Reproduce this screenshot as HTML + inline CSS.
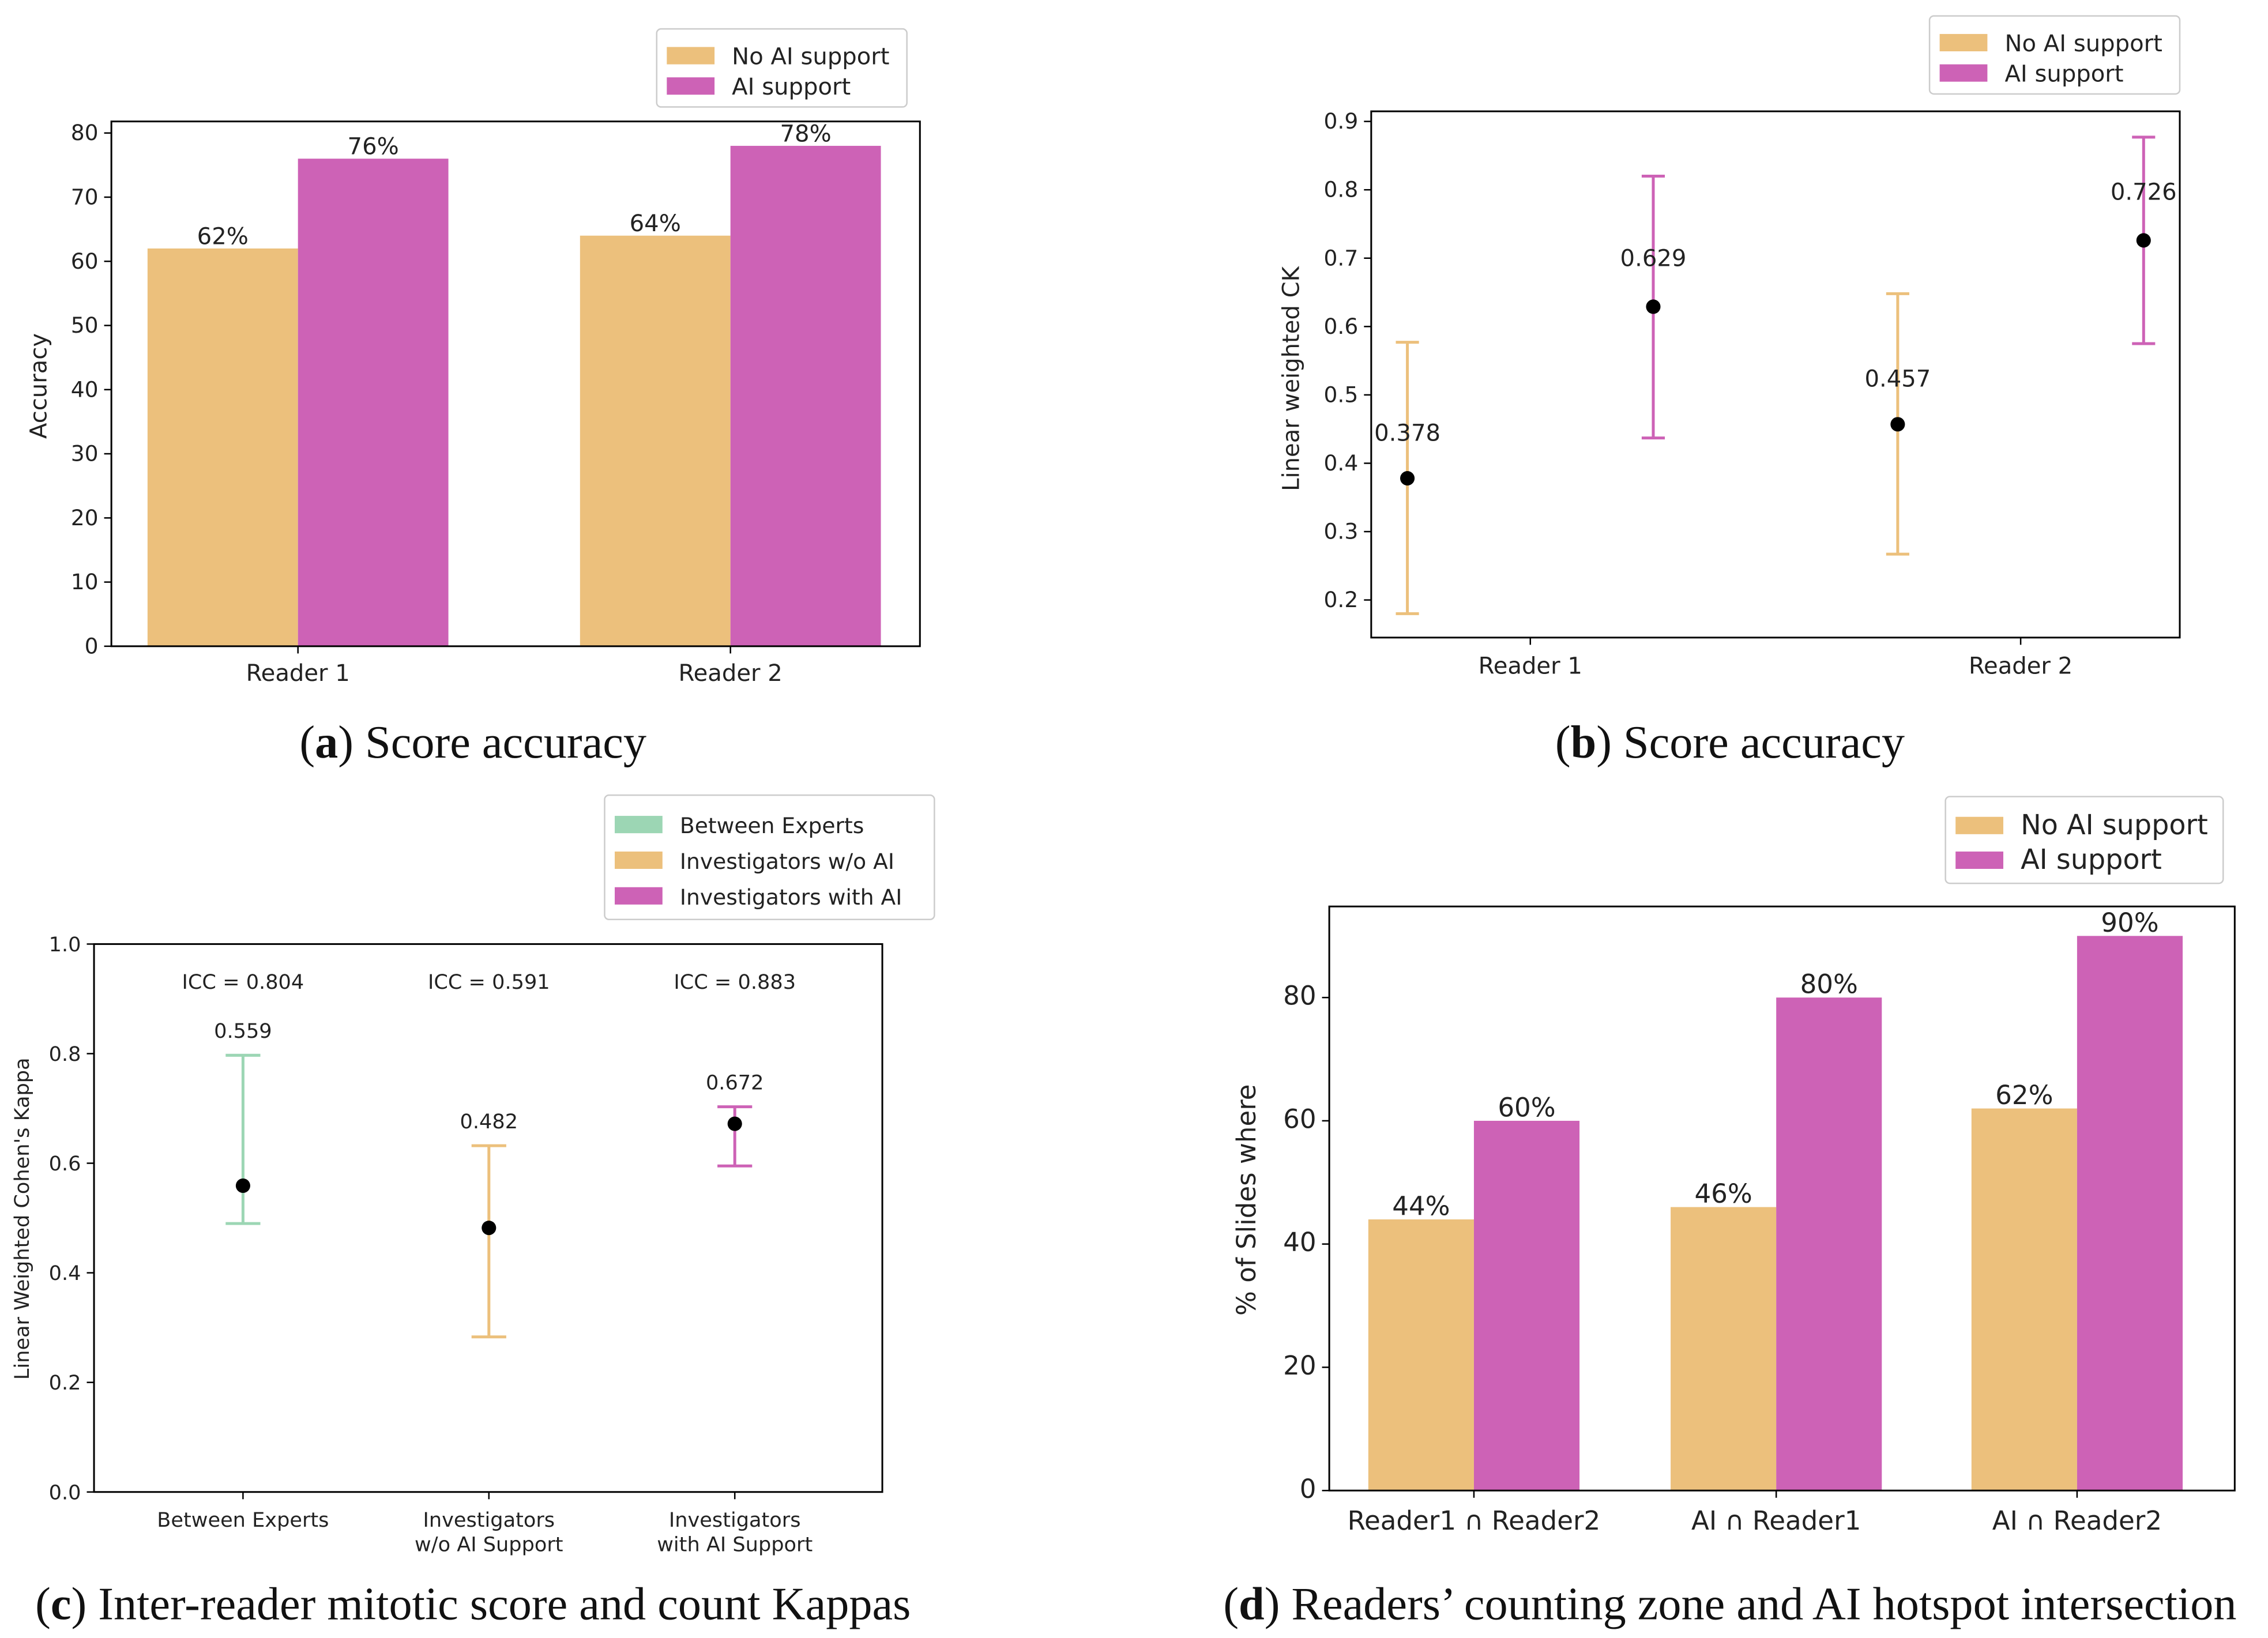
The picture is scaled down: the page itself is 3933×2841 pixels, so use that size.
<!DOCTYPE html>
<html><head><meta charset="utf-8"><style>
html,body{margin:0;padding:0;background:#fff}
svg{display:block}
text{font-family:"DejaVu Sans","Liberation Sans",sans-serif;fill:#222}
.cap{font-family:"Liberation Serif",serif;font-size:32px;fill:#111}
</style></head><body>
<svg id="s" width="3933" height="2841" viewBox="0 0 1568 1133" preserveAspectRatio="none" xmlns="http://www.w3.org/2000/svg"></svg>
<script>
// Panel a data
const aCats=["Reader 1","Reader 2"];
const aNoAI=[62,64];
const aAI=[76,78];
const aTicks=[0,10,20,30,40,50,60,70,80];
// Panel b data
const bCats=["Reader 1","Reader 2"];
const bNoAI=[0.378,0.457];
const bNoAILo=[0.18,0.267];
const bNoAIHi=[0.577,0.648];
const bAI=[0.629,0.726];
const bAILo=[0.437,0.575];
const bAIHi=[0.82,0.877];
const bTicks=[0.2,0.3,0.4,0.5,0.6,0.7,0.8,0.9];
// Panel c data
const cCats=[["Between Experts"],["Investigators","w/o AI Support"],["Investigators","with AI Support"]];
const cVals=[0.559,0.482,0.672];
const cLo=[0.49,0.283,0.595];
const cHi=[0.797,0.632,0.703];
const cICC=["ICC = 0.804","ICC = 0.591","ICC = 0.883"];
const cTicks=[0,0.2,0.4,0.6,0.8,1.0];
// Panel d data
const dCats=["Reader1 \u2229 Reader2","AI \u2229 Reader1","AI \u2229 Reader2"];
const dNoAI=[44,46,62];
const dAI=[60,80,90];
const dTicks=[0,20,40,60,80];

const OR="#ecc07c",MG="#cd62b6",GR="#9cd6b4";
const S=document.getElementById('s');
const NS="http://www.w3.org/2000/svg";
function el(tag,at,txt){const e=document.createElementNS(NS,tag);for(const k in at)e.setAttribute(k,at[k]);if(txt!==undefined)e.textContent=txt;S.appendChild(e);return e;}
function t(x,y,s,fs,anc,name,extra){const e=el('text',Object.assign({x:x,y:y,'font-size':fs,'text-anchor':anc||'middle'},extra||{}),s);


return e;}
function frame(x0,y0,x1,y1,name){const r=el('rect',{x:x0,y:y0,width:x1-x0,height:y1-y0,fill:'none',stroke:'#000','stroke-width':1.2});

}
function yaxis(ticks,fy,x0,fmt,fs,name){ticks.forEach(v=>{const y=fy(v);el('line',{x1:x0-5,x2:x0,y1:y,y2:y,stroke:'#000'});
t(x0-9,y+5,fmt(v),fs,'end',name+'-tick');});}
function legend(x,y,w,h,items,fs,name){const r=el('rect',{x:x,y:y,width:w,height:h,rx:3,fill:'#fff',stroke:'#ccc'});


const step=(h-12)/items.length;items.forEach((it,i)=>{const cy=y+8+step*(i+0.5);
const sw=el('rect',{x:x+7,y:cy-6,width:33,height:12,fill:it[1]});


t(x+52,cy+6,it[0],fs,'start','legend-entry');});}
function bar(x,y0,y1,w,c,name){const r=el('rect',{x:x,y:Math.min(y0,y1),width:w,height:Math.abs(y1-y0),fill:c});

}
function errbar(x,yl,yh,c,cap,name){const g=[el('line',{x1:x,x2:x,y1:yl,y2:yh,stroke:c,'stroke-width':2}),el('line',{x1:x-cap,x2:x+cap,y1:yl,y2:yl,stroke:c,'stroke-width':2}),el('line',{x1:x-cap,x2:x+cap,y1:yh,y2:yh,stroke:c,'stroke-width':2})];
g.forEach(e=>{
});}
function dot(x,y,name){const c=el('circle',{cx:x,cy:y,r:5,fill:'#000'});

}

// ---- Panel a
(function(){const fy=v=>447-v*(447-92)/80;const cx=[206,505];const bw=104;
aCats.forEach((c,i)=>{bar(cx[i]-bw,447,fy(aNoAI[i]),bw,OR,'bar-no-ai');bar(cx[i],447,fy(aAI[i]),bw,MG,'bar-ai');
t(cx[i]-bw/2,fy(aNoAI[i])-3,aNoAI[i]+'%',16,'middle','bar-value');t(cx[i]+bw/2,fy(aAI[i])-3,aAI[i]+'%',16,'middle','bar-value');
el('line',{x1:cx[i],x2:cx[i],y1:447,y2:452,stroke:'#000'});t(cx[i],471,c,16,'middle','x-tick-label');});
frame(77,84,636,447,'plot-a');yaxis(aTicks,fy,77,v=>v,15,'y');
t(32,267,'Accuracy',16,'middle','y-axis-title',{transform:'rotate(-90 32 267)'});
legend(454,20,173,54,[['No AI support',OR],['AI support',MG]],16,'legend-a');
const c=el('text',{x:327,y:524,'text-anchor':'middle','class':'cap'});c.innerHTML='(<tspan font-weight="bold">a</tspan>) Score accuracy';

})();

// ---- Panel b
(function(){const fy=v=>415-(v-0.2)*(415-84)/0.7;const cx=[1058,1397];const off=85;
bCats.forEach((c,i)=>{let x=cx[i]-off;errbar(x,fy(bNoAILo[i]),fy(bNoAIHi[i]),OR,8,'error-bar-no-ai');dot(x,fy(bNoAI[i]),'point-no-ai');t(x,fy(bNoAI[i])-26,bNoAI[i].toFixed(3),16,'middle','point-value');
x=cx[i]+off;errbar(x,fy(bAILo[i]),fy(bAIHi[i]),MG,8,'error-bar-ai');dot(x,fy(bAI[i]),'point-ai');t(x,fy(bAI[i])-28,bAI[i].toFixed(3),16,'middle','point-value');
el('line',{x1:cx[i],x2:cx[i],y1:441,y2:446,stroke:'#000'});t(cx[i],466,c,16,'middle','x-tick-label');});
frame(948,77,1507,441,'plot-b');yaxis(bTicks,fy,948,v=>v.toFixed(1),15,'y');
t(898,262,'Linear weighted CK',16,'middle','y-axis-title',{transform:'rotate(-90 898 262)'});
legend(1334,11,173,54,[['No AI support',OR],['AI support',MG]],16,'legend-b');
const c=el('text',{x:1196,y:524,'text-anchor':'middle','class':'cap'});c.innerHTML='(<tspan font-weight="bold">b</tspan>) Score accuracy';

})();

// ---- Panel c
(function(){const fy=v=>1032-v*(1032-653);const cx=[168,338,508];const cols=[GR,OR,MG];
cCats.forEach((c,i)=>{errbar(cx[i],fy(cLo[i]),fy(cHi[i]),cols[i],12,'error-bar');dot(cx[i],fy(cVals[i]),'point');
t(cx[i],fy(cHi[i])-12,cVals[i].toFixed(3),14,'middle','point-value');t(cx[i],684,cICC[i],14,'middle','icc-label');
el('line',{x1:cx[i],x2:cx[i],y1:1032,y2:1037,stroke:'#000'});c.forEach((l,j)=>t(cx[i],1056+j*17,l,14,'middle','x-tick-label'));});
frame(65,653,610,1032,'plot-c');yaxis(cTicks,fy,65,v=>v.toFixed(1),14,'y');
t(20,843,"Linear Weighted Cohen's Kappa",14,'middle','y-axis-title',{transform:'rotate(-90 20 843)'});
legend(418,550,228,86,[['Between Experts',GR],['Investigators w/o AI',OR],['Investigators with AI',MG]],15,'legend-c');
const c=el('text',{x:327,y:1120,'text-anchor':'middle','class':'cap'});c.innerHTML='(<tspan font-weight="bold">c</tspan>) Inter-reader mitotic score and count Kappas';

})();

// ---- Panel d
(function(){const fy=v=>1031-v*(1031-690)/80;const cx=[1019,1228,1436];const bw=73;
dCats.forEach((c,i)=>{bar(cx[i]-bw,1031,fy(dNoAI[i]),bw,OR,'bar-no-ai');bar(cx[i],1031,fy(dAI[i]),bw,MG,'bar-ai');
t(cx[i]-bw/2,fy(dNoAI[i])-3,dNoAI[i]+'%',18,'middle','bar-value');t(cx[i]+bw/2,fy(dAI[i])-3,dAI[i]+'%',18,'middle','bar-value');
el('line',{x1:cx[i],x2:cx[i],y1:1031,y2:1036,stroke:'#000'});t(cx[i],1058,c,18,'middle','x-tick-label');});
frame(919,627,1545,1031,'plot-d');yaxis(dTicks,fy,919,v=>v,18,'y');
t(868,830,'% of Slides where',18,'middle','y-axis-title',{transform:'rotate(-90 868 830)'});
legend(1345,551,192,60,[['No AI support',OR],['AI support',MG]],19,'legend-d');
const c=el('text',{x:1196,y:1120,'text-anchor':'middle','class':'cap'});c.innerHTML='(<tspan font-weight="bold">d</tspan>) Readers\u2019 counting zone and AI hotspot intersection';

})();
</script>
</body></html>
